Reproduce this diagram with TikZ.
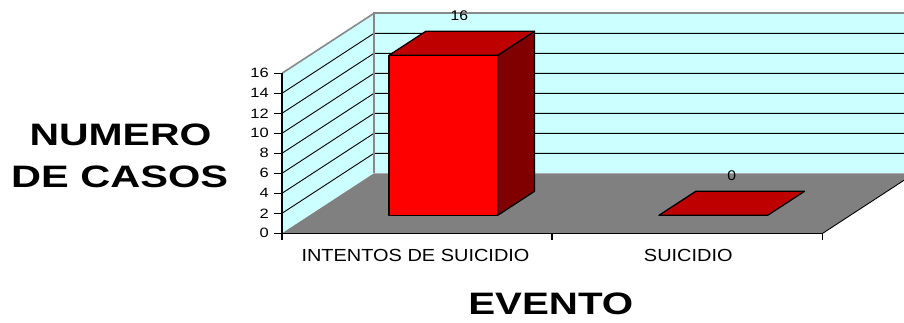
\documentclass[tikz,border=0pt]{standalone}
\usepackage{fontspec}
\setmainfont{Liberation Sans}

\definecolor{wallcyan}{HTML}{CCFFFF}
\definecolor{floorgray}{HTML}{808080}
\definecolor{edgegray}{HTML}{888888}
\definecolor{barfront}{HTML}{FF0000}
\definecolor{bartop}{HTML}{BE0000}
\definecolor{barside}{HTML}{800000}

\begin{document}
\begin{tikzpicture}[x={(1pt,0pt)},y={(0pt,10pt)},z={(92pt,60pt)},
    wall/.style={fill=wallcyan},
    gridline/.style={black,line width=0.9pt},
    walledge/.style={edgegray,line width=1.6pt},
    axisline/.style={black,line width=1.4pt},
    barface/.style={draw=black,line width=1.3pt,line join=round},
    ticklab/.style={anchor=east,inner sep=0pt,font=\fontsize{13.5}{13.5}\selectfont},
    vallab/.style={inner sep=0pt,font=\fontsize{14}{14}\selectfont},
    catlab/.style={inner sep=0pt,font=\fontsize{17.5}{17.5}\selectfont},
    titlelab/.style={inner sep=0pt,font=\bfseries\fontsize{31}{31}\selectfont}]
  \clip (-282pt,-88.7pt) rectangle (622pt,233.3pt);

  % walls and floor
  \fill[wall] (0,0,1) -- (540.7,0,1) -- (540.7,16,1) -- (0,16,1) -- cycle;
  \fill[wall] (0,0,0) -- (0,16,0) -- (0,16,1) -- (0,0,1) -- cycle;
  \fill[floorgray] (0,0,0) -- (540.7,0,0) -- (540.7,0,1) -- (0,0,1) -- cycle;

  \foreach \v in {2,4,...,14} {
    \draw[gridline] (0,\v,0) -- (0,\v,1) -- (540.7,\v,1);
  }
  \draw[walledge] (0,0,1) -- (0,16,1) -- (540.7,16,1);
  \draw[walledge] (0,16,0) -- (0,16,1);
  \draw[black,line width=0.9pt] (540.7,0,0) -- (540.7,0,1);

  % axes
  \draw[axisline] (0,0,0) -- (0,16,0);
  \draw[axisline] (0,0,0) -- (540.7,0,0);
  \foreach \v in {0,2,...,16} {
    \draw[axisline] (0,\v,0) -- (-8,\v,0);
    \node[ticklab] (t\v) at (-13,\v,0) {\scalebox{1.22}[1]{\v}};
  }
  \foreach \c in {0,270,540.7} {
    \draw[axisline] (\c,0,0) -- (\c,-0.65,0);
  }

  % bars
  \filldraw[barface,fill=barside] (188.1,0,.3) -- (188.1,0,.7) -- (188.1,16,.7) -- (188.1,16,.3) -- cycle;
  \filldraw[barface,fill=bartop] (79.4,16,.3) -- (188.1,16,.3) -- (188.1,16,.7) -- (79.4,16,.7) -- cycle;
  \filldraw[barface,fill=barfront] (79.4,0,.3) -- (188.1,0,.3) -- (188.1,16,.3) -- (79.4,16,.3) -- cycle;
  \filldraw[barface,fill=bartop] (349.4,0,.3) -- (458.1,0,.3) -- (458.1,0,.7) -- (349.4,0,.7) -- cycle;

  \coordinate (top1) at (133.75,16,.5);
  \coordinate (top2) at (403.75,0,.5);
  \node[vallab] (val1) at ([xshift=-2.5pt,yshift=28pt]top1) {\scalebox{1.12}[1]{16}};
  \node[vallab] (val2) at ([yshift=28pt]top2) {\scalebox{1.12}[1]{0}};

  % labels
  \node[catlab] (cat1) at (133.5pt,-22pt) {\scalebox{1.14}[1]{INTENTOS DE SUICIDIO}};
  \node[catlab] (cat2) at (406.3pt,-22pt) {\scalebox{1.14}[1]{SUICIDIO}};
  \node[titlelab] (ytitle1) at (-161.5pt,98.8pt) {\scalebox{1.32}[1]{NUMERO}};
  \node[titlelab] (ytitle2) at (-162.3pt,56.6pt) {\scalebox{1.34}[1]{DE CASOS}};
  \node[titlelab] (xtitle) at (268.8pt,-70.9pt) {\scalebox{1.3}[1]{EVENTO}};
\end{tikzpicture}
\end{document}
